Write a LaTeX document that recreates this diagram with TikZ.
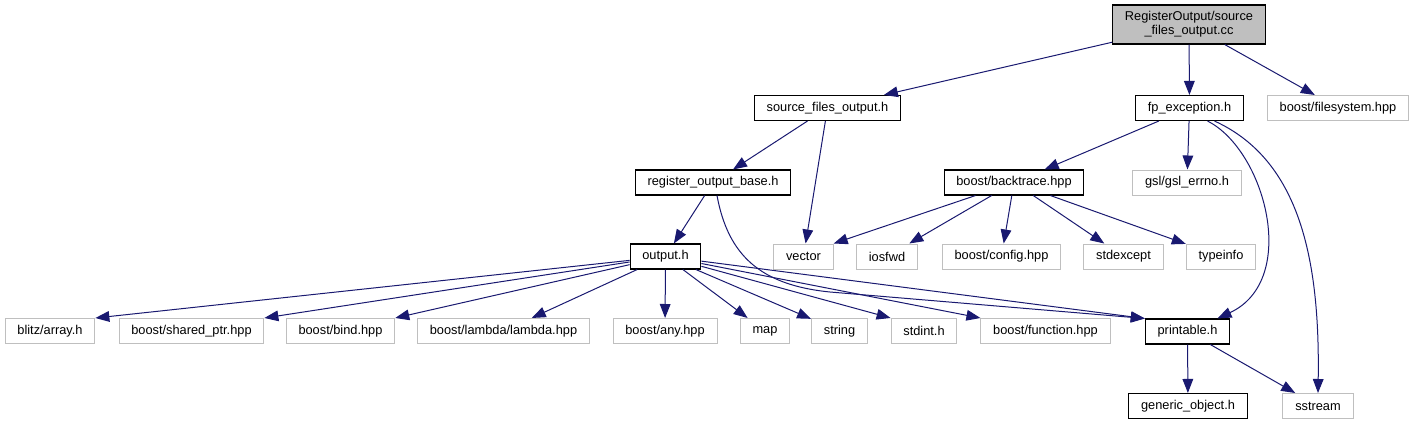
\documentclass[tikz,border=0pt]{standalone}
\usepackage{fontspec}
\setmainfont{Liberation Sans}
\usetikzlibrary{arrows.meta,calc}
\definecolor{incl}{RGB}{25,25,112}
\definecolor{sysgrey}{RGB}{191,191,191}
\tikzset{file/.style={draw=black,line width=0.8pt,fill=white,inner xsep=9.2pt,inner ysep=0pt,minimum height=18.75pt},
 sysfile/.style={file,draw=sysgrey,line width=0.75pt},
 inc/.style={-{Triangle[length=10.5pt,width=8pt]},incl,line width=0.75pt},
 every node/.style={font=\fontsize{9.6}{10.5}\selectfont}}

\begin{document}
\begin{tikzpicture}[x=0.75pt,y=-0.75pt]
\useasboundingbox (0,0) rectangle (1415,425);
% top
\node[file,fill=sysgrey,align=center,minimum height=29.25pt] (root) at (1189,24.5) {RegisterOutput/source\\\_files\_output.cc};
\node[file] (sfo) at (827.5,108) {source\_files\_output.h};
\node[file] (fpe) at (1189.5,108) {fp\_exception.h};
\node[sysfile] (fsys) at (1338,108) {boost/filesystem.hpp};
\node[file] (rob) at (713,182.5) {register\_output\_base.h};
\node[file] (bt) at (1014,182.5) {boost/backtrace.hpp};
\node[sysfile] (gsl) at (1187,182.5) {gsl/gsl\_errno.h};
% middle row
\node[file] (out) at (665.5,256.5) {output.h};
\node[sysfile] (vec) at (803.5,256.5) {vector};
\node[sysfile] (iosfwd) at (887,256.5) {iosfwd};
\node[sysfile] (cfg) at (1001.5,256.5) {boost/config.hpp};
\node[sysfile] (stdexc) at (1123.5,256.5) {stdexcept};
\node[sysfile] (tinfo) at (1221,256.5) {typeinfo};
% bottom rows
\node[sysfile] (blitz) at (50,331) {blitz/array.h};
\node[sysfile] (shptr) at (191.5,331) {boost/shared\_ptr.hpp};
\node[sysfile] (bind) at (340.5,331) {boost/bind.hpp};
\node[sysfile] (lambda) at (503.5,331) {boost/lambda/lambda.hpp};
\node[sysfile] (any) at (665,331) {boost/any.hpp};
\node[sysfile] (map) at (765,331) {map};
\node[sysfile] (str) at (839.5,331) {string};
\node[sysfile] (stdint) at (924,331) {stdint.h};
\node[sysfile] (func) at (1045.5,331) {boost/function.hpp};
\node[file] (prt) at (1187.5,331.5) {printable.h};
\node[file] (gobj) at (1188,406) {generic\_object.h};
\node[sysfile] (sstr) at (1318,406) {sstream};
% includes
\draw[inc] (root) -- (sfo);
\draw[inc] (root) -- (fpe);
\draw[inc] (root) -- (fsys);
\draw[inc] (sfo) -- (rob);
\draw[inc] (sfo) -- (vec);
\draw[inc] (fpe) -- (bt);
\draw[inc] (fpe) -- (gsl);
\draw[inc] ($(fpe.south)+(18,0)$) .. controls (1265,150) and (1300,280) .. ($(prt.north)+(30,0)$);
\draw[inc] ($(fpe.south)+(25,0)$) .. controls (1300,160) and (1320,260) .. (sstr.north);
\draw[inc] (rob) -- (out);
\draw[inc] ($(rob.south)+(4,0)$) .. controls (728,255) and (760,285) .. (830,292) -- (prt.north west);
\draw[inc] (bt) -- (vec.north east);
\draw[inc] (bt) -- (iosfwd);
\draw[inc] (bt) -- (cfg);
\draw[inc] (bt) -- (stdexc);
\draw[inc] (bt) -- (tinfo);
\draw[inc] (out) -- (blitz.north east);
\draw[inc] (out) -- (shptr.north east);
\draw[inc] (out) -- (bind.north east);
\draw[inc] (out) -- (lambda);
\draw[inc] (out) -- (any);
\draw[inc] (out) -- (map);
\draw[inc] (out) -- (str);
\draw[inc] (out) -- (stdint.north west);
\draw[inc] (out) -- (func.north west);
\draw[inc] (out) -- (prt.north west);
\draw[inc] (prt) -- (gobj);
\draw[inc] (prt) -- (sstr);
\end{tikzpicture}
\end{document}
